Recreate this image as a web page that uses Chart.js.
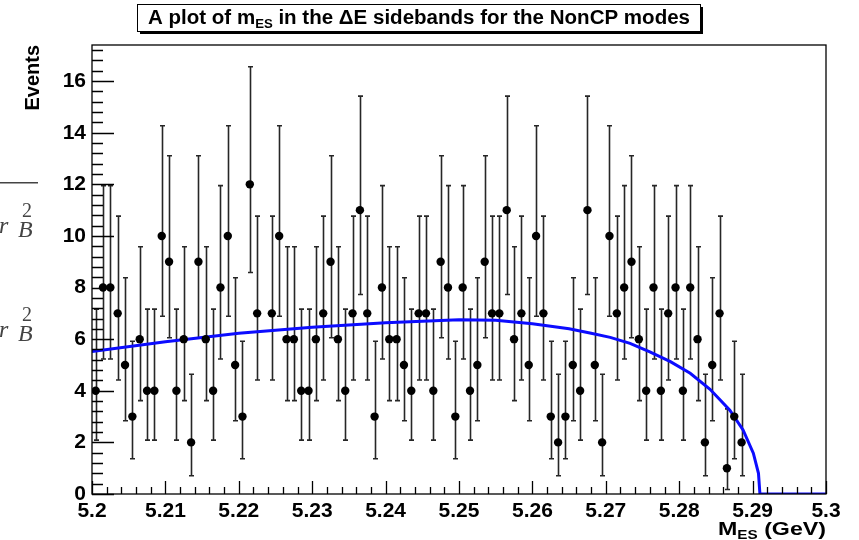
<!DOCTYPE html>
<html>
<head>
<meta charset="UTF-8">
<title>m_ES in the ΔE sidebands for the NonCP modes</title>
<script src="https://cdn.jsdelivr.net/npm/chart.js"></script>
<style>
  html, body { margin: 0; padding: 0; background: #fff; }
  #wrap { width: 859px; height: 540px; }
</style>
</head>
<body>
<div id="wrap"><canvas id="mesChart" width="859" height="540"></canvas></div>
<script>
// histogram, 1 MeV bins: bin centres (GeV) and entries (null = empty bin, not drawn)
const binCenters = [
  5.2005, 5.2015, 5.2025, 5.2035, 5.2045, 5.2055, 5.2065, 5.2075, 5.2085, 5.2095,
  5.2105, 5.2115, 5.2125, 5.2135, 5.2145, 5.2155, 5.2165, 5.2175, 5.2185, 5.2195,
  5.2205, 5.2215, 5.2225, 5.2235, 5.2245, 5.2255, 5.2265, 5.2275, 5.2285, 5.2295,
  5.2305, 5.2315, 5.2325, 5.2335, 5.2345, 5.2355, 5.2365, 5.2375, 5.2385, 5.2395,
  5.2405, 5.2415, 5.2425, 5.2435, 5.2445, 5.2455, 5.2465, 5.2475, 5.2485, 5.2495,
  5.2505, 5.2515, 5.2525, 5.2535, 5.2545, 5.2555, 5.2565, 5.2575, 5.2585, 5.2595,
  5.2605, 5.2615, 5.2625, 5.2635, 5.2645, 5.2655, 5.2665, 5.2675, 5.2685, 5.2695,
  5.2705, 5.2715, 5.2725, 5.2735, 5.2745, 5.2755, 5.2765, 5.2775, 5.2785, 5.2795,
  5.2805, 5.2815, 5.2825, 5.2835, 5.2845, 5.2855, 5.2865, 5.2875, 5.2885
];
const counts = [
  4, 8, 8, 7, 5, 3, 6, 4, 4, 10,
  9, 4, 6, 2, 9, 6, 4, 8, 10, 5,
  3, 12, 7, null, 7, 10, 6, 6, 4, 4,
  6, 7, 9, 6, 4, 7, 11, 7, 3, 8,
  6, 6, 5, 4, 7, 7, 4, 9, 8, 3,
  8, 4, 5, 9, 7, 7, 11, 6, 7, 5,
  10, 7, 3, 2, 3, 5, 4, 11, 5, 2,
  10, 7, 8, 9, 6, 4, 8, 4, 7, 8,
  4, 8, 6, 2, 5, 7, 1, 3, 2
];
// poisson error bar ends by number of entries (n = 0..12)
const poissonLow  = [0, 0.173, 0.708, 1.367, 2.086, 2.840, 3.620, 4.419, 5.232, 6.057, 6.891, 7.734, 8.585];
const poissonHigh = [1.841, 3.300, 4.638, 5.918, 7.163, 8.382, 9.584, 10.77, 11.95, 13.11, 14.27, 15.42, 16.56];

// argus fit
const fitX = [5.200, 5.210, 5.220, 5.230, 5.240, 5.250, 5.255, 5.260, 5.265, 5.268, 5.2706,
              5.2733, 5.2760, 5.2788, 5.2815, 5.2842, 5.2869, 5.2887, 5.2901, 5.2908, 5.2910, 5.300];
const fitY = [5.52, 5.90, 6.23, 6.46, 6.64, 6.75, 6.73, 6.60, 6.40, 6.23, 6.07,
              5.84, 5.51, 5.13, 4.68, 4.06, 3.25, 2.48, 1.58, 0.80, 0, 0];

const xRange = [5.2, 5.3];
const yRange = [0, 17.4];

const FONT = "'Liberation Sans', Arial, Helvetica, sans-serif";
Chart.defaults.font.family = FONT;
Chart.defaults.color = '#000';

const points = binCenters.map((x, i) => ({ x: x, y: counts[i] }));
const fitPoints = fitX.map((x, i) => ({ x: x, y: fitY[i] }));

// draws a run of [text, size, dy] pieces, squeezed/stretched to a given width
function drawRun(ctx, parts, x, base, targetW) {
  let w = 0;
  parts.forEach(p => { ctx.font = 'bold ' + p[1] + 'px ' + FONT; w += ctx.measureText(p[0]).width; });
  const sx = targetW ? targetW / w : 1;
  ctx.save();
  ctx.translate(x, base);
  ctx.scale(sx, 1);
  let xx = 0;
  parts.forEach(p => {
    ctx.font = 'bold ' + p[1] + 'px ' + FONT;
    ctx.fillText(p[0], xx, p[2]);
    xx += ctx.measureText(p[0]).width;
  });
  ctx.restore();
}

// frame, inward ticks (root style), error bars
const rootStyle = {
  id: 'rootStyle',
  beforeDatasetsDraw(chart) {
    const ctx = chart.ctx, xs = chart.scales.x, ys = chart.scales.y;
    ctx.save();
    ctx.strokeStyle = '#262626';
    ctx.lineWidth = 1.6;
    counts.forEach((n, i) => {
      if (n === null) return;
      const px = Math.round(xs.getPixelForValue(binCenters[i])) + 0.5;
      const lo = ys.getPixelForValue(poissonLow[n]);
      const hi = ys.getPixelForValue(poissonHigh[n]);
      ctx.beginPath();
      ctx.moveTo(px, lo); ctx.lineTo(px, hi);
      ctx.moveTo(px - 2.5, lo); ctx.lineTo(px + 2.5, lo);
      ctx.moveTo(px - 2.5, hi); ctx.lineTo(px + 2.5, hi);
      ctx.stroke();
    });
    ctx.restore();
  },
  afterDatasetsDraw(chart) {
    const ctx = chart.ctx, a = chart.chartArea, xs = chart.scales.x, ys = chart.scales.y;
    ctx.save();
    ctx.strokeStyle = '#000';
    ctx.lineWidth = 1.3;
    ctx.strokeRect(a.left, a.top, a.right - a.left, a.bottom - a.top);
    ctx.beginPath();
    // y ticks: major every 2, minor every 0.4
    for (let k = 0; k * 0.4 <= yRange[1] + 1e-9; k++) {
      const py = Math.round(ys.getPixelForValue(k * 0.4)) + 0.5;
      const len = (k % 5 === 0) ? 22 : 11;
      ctx.moveTo(a.left, py); ctx.lineTo(a.left + len, py);
    }
    // x ticks: major every 0.01, minor every 0.002
    for (let k = 0; k <= 50; k++) {
      const px = Math.round(xs.getPixelForValue(xRange[0] + k * 0.002)) + 0.5;
      const len = (k % 5 === 0) ? 13 : 7;
      ctx.moveTo(px, a.bottom); ctx.lineTo(px, a.bottom - len);
    }
    ctx.stroke();
    ctx.restore();
  },
  afterDraw(chart) {
    const ctx = chart.ctx, a = chart.chartArea;
    ctx.save();
    ctx.fillStyle = '#000';
    ctx.textBaseline = 'alphabetic';

    // title box with shadow
    const bx = 137, by = 4, bw = 563, bh = 27;
    ctx.fillRect(bx + 3, by + 3, bw, bh);
    ctx.fillStyle = '#fff';
    ctx.fillRect(bx, by, bw, bh);
    ctx.strokeStyle = '#000';
    ctx.lineWidth = 1;
    ctx.strokeRect(bx + 0.5, by + 0.5, bw, bh);
    ctx.fillStyle = '#000';
    drawRun(ctx, [['A plot of m', 19.5, 0], ['ES', 12.5, 4],
                  [' in the \u0394E sidebands for the NonCP modes', 19.5, 0]], 148, 24, 542);

    // x axis title, right aligned to the frame
    drawRun(ctx, [['M', 19, 0], ['ES', 12.5, 4], [' (GeV)', 19, 0]], a.right - 108, 535, 108);

    // y axis title
    ctx.save();
    ctx.translate(39, a.top);
    ctx.rotate(-Math.PI / 2);
    ctx.textAlign = 'right';
    ctx.font = 'bold 20px ' + FONT;
    ctx.fillText('Events', 0, 0);
    ctx.restore();

    // bits of the surrounding page at the left edge
    ctx.fillStyle = '#444';
    ctx.fillRect(0, 182, 38, 1.5);
    [0, 104].forEach(dy => {
      ctx.font = 'italic 24px "Liberation Serif", "DejaVu Serif", serif';
      ctx.fillText('r', -1, 233 + dy);
      ctx.fillText('B', 18, 237 + dy);
      ctx.font = '20px "Liberation Serif", "DejaVu Serif", serif';
      ctx.fillText('2', 22, 217 + dy);
    });
    ctx.restore();
  }
};

new Chart(document.getElementById('mesChart'), {
  type: 'scatter',
  data: {
    datasets: [
      {
        label: 'data',
        data: points,
        backgroundColor: '#000',
        borderColor: '#000',
        pointRadius: 4.2,
        pointBorderWidth: 0,
        showLine: false
      },
      {
        label: 'fit',
        data: fitPoints,
        type: 'line',
        borderColor: '#0c0cff',
        borderWidth: 3,
        pointRadius: 0,
        tension: 0,
        fill: false
      }
    ]
  },
  options: {
    responsive: false,
    animation: false,
    devicePixelRatio: 1,
    layout: { padding: { left: 0, right: 33, top: 45, bottom: 0 } },
    plugins: { legend: { display: false }, title: { display: false }, tooltip: { enabled: false } },
    scales: {
      x: {
        type: 'linear',
        min: xRange[0],
        max: xRange[1],
        grid: { display: false, drawTicks: false, tickLength: 0 },
        border: { display: false },
        ticks: {
          stepSize: 0.01, padding: 5, includeBounds: false, maxRotation: 0,
          font: { size: 21, weight: 'bold' },
          callback: v => String(Math.round(v * 100) / 100)
        },
        afterFit: s => { s.height = 46; }
      },
      y: {
        min: yRange[0],
        max: yRange[1],
        grid: { display: false, drawTicks: false, tickLength: 0 },
        border: { display: false },
        ticks: { stepSize: 2, padding: 6, includeBounds: false, font: { size: 21, weight: 'bold' } },
        afterFit: s => { s.width = 92; }
      }
    }
  },
  plugins: [rootStyle]
});
</script>
</body>
</html>
